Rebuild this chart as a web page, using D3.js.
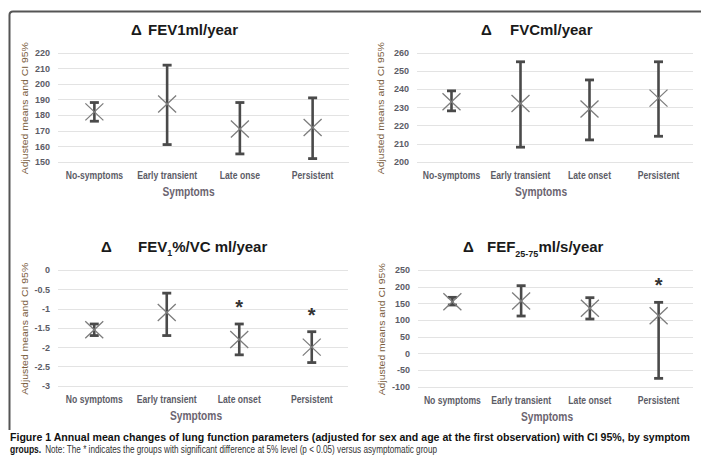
<!DOCTYPE html>
<html>
<head>
<meta charset="utf-8">
<script src="https://cdn.jsdelivr.net/npm/d3@7/dist/d3.min.js"></script>
<style>
  html, body { margin: 0; padding: 0; background: #fff; }
  svg { display: block; }
</style>
</head>
<body>
<svg id="fig" width="701" height="462"></svg>
<script>
// Symptom groups (labels differ slightly between panels)
const categoriesFev1 = ["No-symptoms", "Early transient", "Late onse", "Persistent"];
const categoriesFvc = ["No-symptoms", "Early transient", "Late onset", "Persistent"];
const categoriesRatio = ["No symptoms", "Early transient", "Late onset", "Persistent"];
const categoriesFef = ["No symptoms", "Early transient", "Late onset", "Persistent"];

// Δ FEV1 ml/year: adjusted means with 95% CI
const fev1Mean = [182, 187, 171, 172];
const fev1Low = [176, 161, 155, 152];
const fev1High = [188, 212, 188, 191];
const fev1Ticks = [150, 160, 170, 180, 190, 200, 210, 220];

// Δ FVC ml/year
const fvcMean = [233, 232, 229, 235];
const fvcLow = [228, 208, 212, 214];
const fvcHigh = [239, 255, 245, 255];
const fvcTicks = [200, 210, 220, 230, 240, 250, 260];

// Δ FEV1%/VC ml/year
const ratioMean = [-1.55, -1.1, -1.8, -2.0];
const ratioLow = [-1.7, -1.7, -2.2, -2.4];
const ratioHigh = [-1.4, -0.6, -1.4, -1.6];
const ratioTicks = [-3, -2.5, -2, -1.5, -1, -0.5, 0];
const ratioSignificant = [false, false, true, true];

// Δ FEF25-75 ml/s/year
const fefMean = [155, 157, 135, 113];
const fefLow = [145, 112, 103, -75];
const fefHigh = [168, 203, 167, 153];
const fefTicks = [-100, -50, 0, 50, 100, 150, 200, 250];
const fefSignificant = [false, false, false, true];

const yAxisTitle = "Adjusted means and CI 95%";
const xAxisTitle = "Symptoms";
const captionBold = "Figure 1 Annual mean changes of lung function parameters (adjusted for sex and age at the first observation) with CI 95%, by symptom";
const captionBold2 = "groups.";
const captionNote = "Note: The * indicates the groups with significant difference at 5% level (p < 0.05) versus asymptomatic group";

const svg = d3.select("#fig");
const SANS = "'Liberation Sans', Arial, sans-serif";

// squeeze a text element horizontally to a fraction of its natural width
function condense(sel, k) {
  sel.each(function () {
    const w = this.getComputedTextLength();
    d3.select(this).attr("textLength", w * k).attr("lengthAdjust", "spacingAndGlyphs");
  });
}

// outer frame (top and left edges)
svg.append("path")
  .attr("d", "M9.5,430 V15 Q9.5,11.5 13,11.5 H701")
  .attr("fill", "none")
  .attr("stroke", "#555")
  .attr("stroke-width", 2);

const panels = [
  {
    cats: categoriesFev1, mean: fev1Mean, low: fev1Low, high: fev1High, ticks: fev1Ticks,
    sig: null, x0: 58, x1: 349, yTop: 52.7, yBot: 161.7, area: [15, 362],
    yLabelX: 25, titleY: 35,
    title: [{ t: "Δ", x: 131 }, { t: "FEV1ml/year", x: 148 }]
  },
  {
    cats: categoriesFvc, mean: fvcMean, low: fvcLow, high: fvcHigh, ticks: fvcTicks,
    sig: null, x0: 417, x1: 693, yTop: 52.7, yBot: 161.7, area: [374, 708],
    yLabelX: 381, titleY: 35,
    title: [{ t: "Δ", x: 481 }, { t: "FVCml/year", x: 510 }]
  },
  {
    cats: categoriesRatio, mean: ratioMean, low: ratioLow, high: ratioHigh, ticks: ratioTicks,
    sig: ratioSignificant, x0: 58, x1: 348, yTop: 270, yBot: 385.7, area: [15, 377],
    yLabelX: 25, titleY: 252, ratioTitle: true,
    title: [{ t: "Δ", x: 101 }, { t: "FEV", x: 138 }]
  },
  {
    cats: categoriesFef, mean: fefMean, low: fefLow, high: fefHigh, ticks: fefTicks,
    sig: fefSignificant, x0: 418, x1: 693, yTop: 270, yBot: 386.7, area: [378, 716],
    yLabelX: 382, titleY: 252, fefTitle: true,
    title: [{ t: "Δ", x: 463 }]
  }
];

panels.forEach(p => {
  const g = svg.append("g");
  const x = d3.scaleBand().domain(p.cats).range([p.x0, p.x1]);
  const y = d3.scaleLinear().domain(d3.extent(p.ticks)).range([p.yBot, p.yTop]);

  // horizontal gridlines
  g.append("g").selectAll("line").data(p.ticks).join("line")
    .attr("x1", p.x0).attr("x2", p.x1)
    .attr("y1", d => Math.round(y(d)) + 0.5).attr("y2", d => Math.round(y(d)) + 0.5)
    .attr("stroke", "#e3e3e3").attr("stroke-width", 1);

  // y axis tick labels
  const yAxis = d3.axisLeft(y).tickValues(p.ticks).tickSize(0).tickPadding(0)
    .tickFormat(d => String(d));
  const ya = g.append("g").attr("transform", `translate(${p.x0 - 8},0)`).call(yAxis);
  ya.select(".domain").remove();
  ya.selectAll("text")
    .attr("font-family", SANS).attr("font-weight", "bold").attr("font-size", 9)
    .attr("fill", "#5c5c66");

  // x axis category labels
  const xAxis = d3.axisBottom(x).tickSize(0).tickPadding(10);
  const xa = g.append("g").attr("transform", `translate(0,${p.yBot})`).call(xAxis);
  xa.select(".domain").remove();
  xa.selectAll("text")
    .attr("font-family", SANS).attr("font-weight", "bold").attr("font-size", 10.5)
    .attr("fill", "#5c5c66")
    .call(condense, 0.82);

  // axis titles
  const midArea = (p.area[0] + p.area[1]) / 2;
  g.append("text")
    .attr("x", midArea).attr("y", p.yBot + 34)
    .attr("text-anchor", "middle")
    .attr("font-family", SANS).attr("font-weight", "bold").attr("font-size", 12)
    .attr("fill", "#6b6470")
    .text(xAxisTitle)
    .call(condense, 0.85);
  const yMid = (p.yTop + p.yBot) / 2 + 1;
  g.append("text")
    .attr("transform", `translate(${p.yLabelX + 3},${yMid}) rotate(-90)`)
    .attr("text-anchor", "middle")
    .attr("font-family", SANS).attr("font-size", 9.5)
    .attr("fill", "#7a5d40")
    .attr("textLength", 132).attr("lengthAdjust", "spacingAndGlyphs")
    .text(yAxisTitle);

  // chart title
  const tt = g.append("text")
    .attr("y", p.titleY)
    .attr("font-family", SANS).attr("font-weight", "bold").attr("font-size", 15)
    .attr("fill", "#1a1a1a");
  p.title.forEach(s => {
    tt.append("tspan").attr("x", s.x).text(s.t);
  });
  if (p.ratioTitle) {
    tt.append("tspan").attr("font-size", 9).attr("dy", 4).text("1");
    tt.append("tspan").attr("dy", -4).text("%/VC ml/year");
  }
  if (p.fefTitle) {
    tt.append("tspan").attr("x", 487).text("FEF");
    tt.append("tspan").attr("font-size", 9).attr("dy", 5).text("25-75");
    tt.append("tspan").attr("dy", -5).text("ml/s/year");
  }

  const idx = d3.range(p.cats.length);
  const cx = i => x(p.cats[i]) + x.bandwidth() / 2;

  // confidence interval whiskers
  const eb = g.append("g").attr("stroke", "#4a4a4a");
  eb.selectAll("line.v").data(idx).join("line").attr("class", "v")
    .attr("x1", cx).attr("x2", cx)
    .attr("y1", i => y(p.high[i])).attr("y2", i => y(p.low[i]))
    .attr("stroke-width", 2.6);
  eb.selectAll("line.top").data(idx).join("line").attr("class", "top")
    .attr("x1", i => cx(i) - 4.5).attr("x2", i => cx(i) + 4.5)
    .attr("y1", i => y(p.high[i])).attr("y2", i => y(p.high[i]))
    .attr("stroke-width", 2.8);
  eb.selectAll("line.bot").data(idx).join("line").attr("class", "bot")
    .attr("x1", i => cx(i) - 4.5).attr("x2", i => cx(i) + 4.5)
    .attr("y1", i => y(p.low[i])).attr("y2", i => y(p.low[i]))
    .attr("stroke-width", 2.8);

  // mean markers (x shape)
  const mk = g.append("g").attr("stroke", "#7d7d7d").attr("stroke-width", 1.3).attr("fill", "none");
  mk.selectAll("path").data(idx).join("path")
    .attr("d", i => {
      const px = cx(i), py = y(p.mean[i]), r = 9, h = 8.5;
      return `M${px - r},${py - h}L${px + r},${py + h}M${px - r},${py + h}L${px + r},${py - h}`;
    });

  // significance marks
  if (p.sig) {
    g.selectAll("text.sig").data(idx.filter(i => p.sig[i])).join("text").attr("class", "sig")
      .attr("x", cx).attr("y", i => y(p.high[i]) - 10)
      .attr("text-anchor", "middle")
      .attr("font-family", SANS).attr("font-weight", "bold").attr("font-size", 20)
      .attr("fill", "#333")
      .text("*");
  }
});

// figure caption
svg.append("text")
  .attr("x", 10).attr("y", 441)
  .attr("font-family", SANS).attr("font-weight", "bold").attr("font-size", 10)
  .attr("fill", "#111")
  .attr("textLength", 680).attr("lengthAdjust", "spacingAndGlyphs")
  .text(captionBold);
const capLead = svg.append("text")
  .attr("x", 10).attr("y", 453)
  .attr("font-family", SANS).attr("font-weight", "bold").attr("font-size", 10)
  .attr("fill", "#111")
  .text(captionBold2);
const leadW = capLead.node().getComputedTextLength() * 0.85;
capLead.attr("textLength", leadW).attr("lengthAdjust", "spacingAndGlyphs");
const noteX = 10 + leadW + 4;
svg.append("text")
  .attr("x", noteX).attr("y", 453)
  .attr("font-family", SANS).attr("font-size", 10)
  .attr("fill", "#333")
  .attr("textLength", 437 - noteX).attr("lengthAdjust", "spacingAndGlyphs")
  .text(captionNote);
</script>
</body>
</html>
